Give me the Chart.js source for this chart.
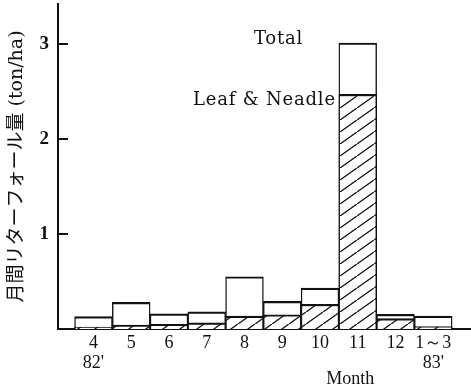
<!DOCTYPE html>
<html>
<head>
<meta charset="utf-8">
<script src="https://cdn.jsdelivr.net/npm/chart.js@4.4.0/dist/chart.umd.min.js"></script>
<style>
  html, body { margin: 0; padding: 0; background: #fff; }
  #litterChart { display: block; }
</style>
</head>
<body>
<canvas id="litterChart" width="471" height="388"></canvas>
<script>
// Monthly litterfall, Apr 1982 - Mar 1983 (ton/ha)
const months = ['4', '5', '6', '7', '8', '9', '10', '11', '12', '1～3'];
const years = ["82'", '', '', '', '', '', '', '', '', "83'"];
const totalLitter = [0.13, 0.28, 0.16, 0.18, 0.55, 0.29, 0.43, 3.01, 0.155, 0.135];
const leafNeedle = [0.02, 0.04, 0.05, 0.065, 0.135, 0.15, 0.26, 2.47, 0.11, 0.025];
const yTicks = [1, 2, 3];

const INK = '#111';
const SERIF = "'Liberation Serif', 'DejaVu Serif', serif";

const canvas = document.getElementById('litterChart');
const ctx = canvas.getContext('2d');

// diagonal hatching for the leaf & needle part
function makeHatch() {
    const w = 17, h = 12;
    const tile = document.createElement('canvas');
    tile.width = w;
    tile.height = h;
    const g = tile.getContext('2d');
    g.fillStyle = '#fff';
    g.fillRect(0, 0, w, h);
    g.strokeStyle = INK;
    g.lineWidth = 1.3;
    g.beginPath();
    g.moveTo(-w, 2 * h); g.lineTo(2 * w, -h);
    g.stroke();
    return ctx.createPattern(tile, 'repeat');
}

const toPoints = arr => arr.map((v, i) => ({ x: i, y: v }));

// y ticks point inward, into the plot
const innerTicks = {
    id: 'innerTicks',
    afterDraw(chart) {
        const { ctx, chartArea, scales: { y } } = chart;
        ctx.save();
        ctx.strokeStyle = INK;
        ctx.lineWidth = 2;
        yTicks.forEach(v => {
            const py = Math.round(y.getPixelForValue(v));
            ctx.beginPath();
            ctx.moveTo(chartArea.left, py);
            ctx.lineTo(chartArea.left + 10, py);
            ctx.stroke();
        });
        ctx.restore();
    }
};

// in-plot labels and the x title
const labels = {
    id: 'labels',
    afterDraw(chart) {
        const { ctx, scales: { x, y } } = chart;
        ctx.save();
        ctx.fillStyle = INK;
        ctx.font = "18px 'DejaVu Serif', serif";
        ctx.letterSpacing = '0.8px';
        ctx.textBaseline = 'middle';
        ctx.textAlign = 'center';
        ctx.fillText('Total', x.getPixelForValue(4.9), y.getPixelForValue(totalLitter[7]) - 4);
        ctx.textAlign = 'right';
        ctx.fillText('Leaf & Neadle', x.getPixelForValue(6.5) - 3, y.getPixelForValue(leafNeedle[7]) + 6);
        ctx.letterSpacing = '0px';
        ctx.font = '18px ' + SERIF;
        ctx.textAlign = 'center';
        ctx.fillText('Month', x.getPixelForValue(6.8), 379);
        ctx.restore();
    }
};

const barStyle = {
    grouped: false,
    barPercentage: 1,
    categoryPercentage: 1,
    borderColor: INK,
    borderWidth: { top: 2.2, left: 1.4, right: 1.4, bottom: 0 },
    borderSkipped: false
};

new Chart(ctx, {
    type: 'bar',
    data: {
        datasets: [
            { label: 'Leaf & Needle', data: toPoints(leafNeedle), backgroundColor: makeHatch(), ...barStyle },
            { label: 'Total', data: toPoints(totalLitter), backgroundColor: '#fff', ...barStyle }
        ]
    },
    options: {
        responsive: false,
        animation: false,
        layout: { autoPadding: false, padding: { top: 4, right: 0, left: 0, bottom: 0 } },
        plugins: {
            legend: { display: false },
            tooltip: { enabled: false }
        },
        scales: {
            x: {
                type: 'linear',
                offset: false,
                min: -0.94,
                max: 10,
                grid: { display: false, drawTicks: false },
                border: { display: true, color: INK, width: 2 },
                afterBuildTicks: scale => {
                    scale.ticks = months.map((_, i) => ({ value: i }));
                },
                afterFit: scale => {
                    scale.height = 59;
                    scale.paddingLeft = 0;
                    scale.paddingRight = 0;
                },
                ticks: {
                    color: INK,
                    padding: 5,
                    autoSkip: false,
                    maxRotation: 0,
                    font: { family: SERIF, size: 18, lineHeight: 1.08 },
                    callback: v => years[v] ? [months[v], years[v]] : months[v]
                }
            },
            y: {
                min: 0,
                max: 3.42,
                grid: { display: false, drawTicks: false },
                border: { display: true, color: INK, width: 2 },
                afterBuildTicks: scale => {
                    scale.ticks = yTicks.map(v => ({ value: v }));
                },
                afterFit: scale => {
                    scale.width = 58;
                    scale.paddingTop = 0;
                    scale.paddingBottom = 0;
                },
                ticks: {
                    color: INK,
                    padding: 9,
                    font: { family: SERIF, size: 19, weight: 'bold' }
                },
                title: {
                    display: true,
                    text: '月間リターフォール量 (ton/ha)',
                    color: INK,
                    padding: { top: 6, bottom: 0 },
                    font: { family: "'DejaVu Serif', 'Noto Sans CJK JP', sans-serif", size: 19 }
                }
            }
        }
    },
    plugins: [innerTicks, labels]
});
</script>
</body>
</html>
